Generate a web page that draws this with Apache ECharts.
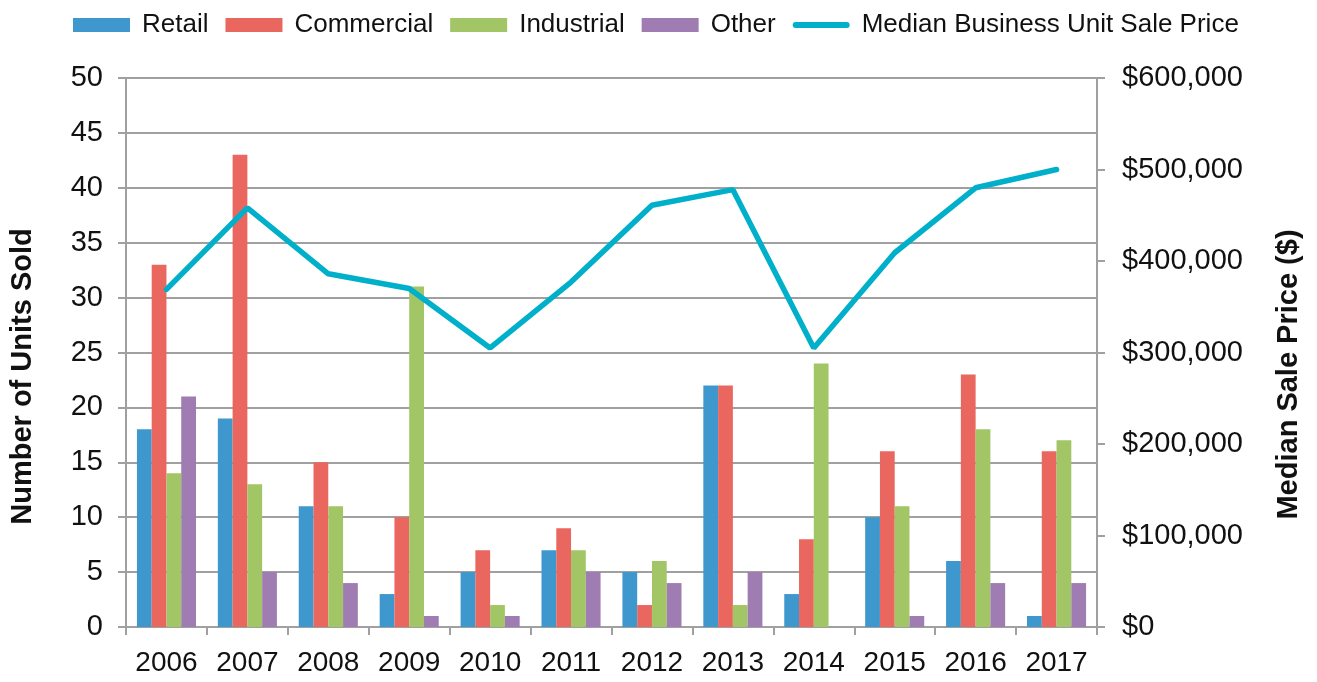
<!DOCTYPE html>
<html>
<head>
<meta charset="utf-8">
<script src="https://cdn.jsdelivr.net/npm/echarts@6/dist/echarts.min.js"></script>
<style>
  html, body { margin: 0; padding: 0; background: #fff; }
  #chart { width: 1317px; height: 682px; }
</style>
</head>
<body>
<div id="chart"></div>
<script>
var years = ['2006', '2007', '2008', '2009', '2010', '2011', '2012', '2013', '2014', '2015', '2016', '2017'];
var retail = [18, 19, 11, 3, 5, 7, 5, 22, 3, 10, 6, 1];
var commercial = [33, 43, 15, 10, 7, 9, 2, 22, 8, 16, 23, 16];
var industrial = [14, 13, 11, 31, 2, 7, 6, 2, 24, 11, 18, 17];
var other = [21, 5, 4, 1, 1, 5, 4, 5, 0, 1, 4, 4];
var medianPrice = [369000, 458000, 386000, 370000, 305000, 377000, 461000, 478000, 305000, 409000, 480000, 500000];

var font = '"Liberation Sans", Arial, sans-serif';
var gridColor = '#a0a0a0';
var lineColor = '#00b0ca';

var chart = echarts.init(document.getElementById('chart'), null, { renderer: 'canvas' });

function bar(name, data, c) {
  return {
    name: name,
    type: 'bar',
    data: data,
    barGap: 0,
    barCategoryGap: '27%',
    itemStyle: { color: c },
    emphasis: { disabled: true }
  };
}

var option = {
  animation: false,
  textStyle: { fontFamily: font },
  legend: {
    left: 73,
    top: 12,
    padding: 0,
    itemWidth: 57,
    itemHeight: 14,
    itemGap: 17,
    textStyle: { fontSize: 26, color: '#111', fontFamily: font, padding: [0, 0, 0, 7] },
    data: [
      { name: 'Retail', icon: 'rect' },
      { name: 'Commercial', icon: 'rect' },
      { name: 'Industrial', icon: 'rect' },
      { name: 'Other', icon: 'rect' },
      { name: 'Median Business Unit Sale Price', icon: 'path://M3,0 L54,0 A3,3 0 0 1 54,6 L3,6 A3,3 0 0 1 3,0 Z', itemStyle: { color: lineColor } }
    ]
  },
  grid: { left: 121, right: 220, top: 78, bottom: 55, containLabel: false },
  xAxis: {
    type: 'category',
    data: years,
    axisLine: { lineStyle: { color: gridColor, width: 2 } },
    axisTick: { show: true, length: 8, lineStyle: { color: gridColor, width: 2 } },
    axisLabel: { interval: 0, fontSize: 28, color: '#111', margin: 22, fontFamily: font }
  },
  yAxis: [{
    type: 'value',
    min: 0,
    max: 50,
    interval: 5,
    name: 'Number of Units Sold',
    nameLocation: 'middle',
    nameRotate: 90,
    nameGap: 89,
    nameTextStyle: { fontSize: 29, fontWeight: 'bold', color: '#111', fontFamily: font, padding: [0, 48, 0, 0] },
    axisLine: { show: true, lineStyle: { color: gridColor, width: 2 } },
    axisTick: { show: true, length: 8, lineStyle: { color: gridColor, width: 2 } },
    splitLine: { lineStyle: { color: gridColor, width: 2 } },
    axisLabel: { fontSize: 29, color: '#111', margin: 23, fontFamily: font }
  }, {
    type: 'value',
    min: 0,
    max: 600000,
    interval: 100000,
    name: 'Median Sale Price ($)',
    nameLocation: 'middle',
    nameRotate: 90,
    nameGap: 177,
    nameTextStyle: { fontSize: 29, fontWeight: 'bold', color: '#111', fontFamily: font, padding: [0, 44, 0, 0] },
    axisLine: { show: true, lineStyle: { color: gridColor, width: 2 } },
    axisTick: { show: true, length: 8, lineStyle: { color: gridColor, width: 2 } },
    splitLine: { show: false },
    axisLabel: {
      fontSize: 29, color: '#111', margin: 25, fontFamily: font,
      formatter: function (v) { return '$' + v.toLocaleString('en-US'); }
    }
  }],
  series: [
    bar('Retail', retail, '#3e97cd'),
    bar('Commercial', commercial, '#e9675f'),
    bar('Industrial', industrial, '#a2c566'),
    bar('Other', other, '#9f7cb2'),
    {
      name: 'Median Business Unit Sale Price',
      type: 'line',
      yAxisIndex: 1,
      data: medianPrice,
      symbol: 'none',
      showSymbol: false,
      lineStyle: { color: lineColor, width: 5.5, cap: 'round' },
      itemStyle: { color: lineColor },
      emphasis: { disabled: true },
      z: 5
    }
  ]
};

chart.setOption(option);
</script>
</body>
</html>
